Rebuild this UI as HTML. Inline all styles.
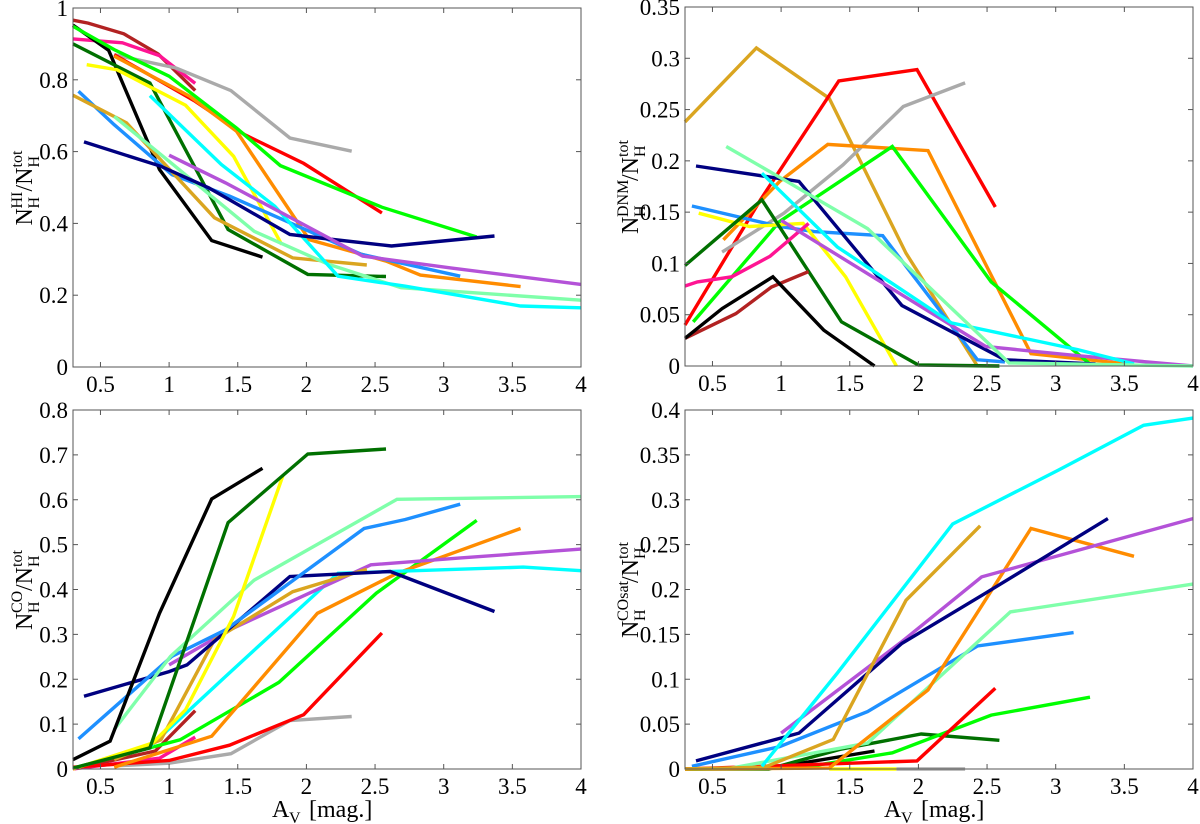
<!DOCTYPE html>
<html><head><meta charset="utf-8"><style>
html,body{margin:0;padding:0;background:#fff;}
svg{display:block;}
text{font-family:"Liberation Serif","DejaVu Serif","Times New Roman",serif;}
</style></head><body>
<svg id="fig" width="1200" height="824" viewBox="0 0 1200 824"></svg>
<script>
const colorVals={brown:'#b22222',pink:'#ff1493',black:'#000000',darkgreen:'#007000',lime:'#00ff00',red:'#ff0000',gray:'#aaaaaa',orange:'#ff8c00',yellow:'#ffff00',dodgerblue:'#1e90ff',goldenrod:'#daa520',aquamarine:'#7fffaa',cyan:'#00ffff',navy:'#000080',purple:'#b452d8'};
const xTicks=[0.5,1,1.5,2,2.5,3,3.5,4];
const xTickLabels=['0.5','1','1.5','2','2.5','3','3.5','4'];
// Panel HI
const hiSeries={
brown:[[0.3,0.966],[0.41,0.958],[0.67,0.928],[0.92,0.872],[1.19,0.77]],
pink:[[0.3,0.914],[0.66,0.903],[0.93,0.867],[1.19,0.79]],
black:[[0.3,0.952],[0.56,0.882],[0.93,0.55],[1.31,0.352],[1.68,0.306]],
darkgreen:[[0.3,0.9],[0.86,0.791],[1.43,0.383],[2.01,0.258],[2.58,0.252]],
gray:[[0.6,0.87],[1.05,0.833],[1.45,0.77],[1.88,0.638],[2.33,0.601]],
red:[[0.6,0.87],[1.19,0.74],[1.55,0.647],[1.98,0.567],[2.55,0.429]],
orange:[[0.6,0.866],[1.15,0.754],[1.49,0.657],[2.02,0.355],[2.58,0.295],[2.83,0.256],[3.56,0.224]],
yellow:[[0.4,0.842],[0.62,0.828],[1.12,0.729],[1.47,0.587],[1.82,0.341]],
lime:[[0.3,0.949],[0.6,0.884],[1.0,0.81],[1.49,0.666],[1.81,0.561],[2.55,0.445],[3.24,0.362]],
dodgerblue:[[0.34,0.768],[0.6,0.675],[1.02,0.536],[1.44,0.476],[2.4,0.314],[3.12,0.253]],
goldenrod:[[0.3,0.757],[0.69,0.68],[1.33,0.416],[1.9,0.304],[2.44,0.284]],
aquamarine:[[0.6,0.698],[1.0,0.573],[1.62,0.378],[2.16,0.286],[2.69,0.221],[4,0.186]],
cyan:[[0.86,0.756],[1.38,0.564],[1.77,0.448],[2.23,0.253],[2.72,0.225],[3.56,0.17],[4,0.165]],
navy:[[0.38,0.627],[0.94,0.559],[1.29,0.499],[1.88,0.369],[2.13,0.358],[2.62,0.337],[3.37,0.365]],
purple:[[1.0,0.59],[1.41,0.513],[2.41,0.309],[3.05,0.276],[4,0.23]]
};
const hiTicks=[0,0.2,0.4,0.6,0.8,1];
const hiTickLabels=['0','0.2','0.4','0.6','0.8','1'];
// Panel DNM
const dnmSeries={
goldenrod:[[0.3,0.238],[0.82,0.31],[1.35,0.261],[1.91,0.11],[2.43,0.0]],
red:[[0.3,0.04],[0.85,0.162],[1.42,0.278],[1.99,0.289],[2.56,0.155]],
gray:[[0.57,0.111],[1.02,0.149],[1.45,0.196],[1.89,0.253],[2.34,0.276]],
orange:[[0.58,0.123],[0.99,0.18],[1.34,0.216],[2.07,0.21],[2.82,0.012],[3.52,0.002]],
lime:[[0.36,0.043],[0.99,0.141],[1.81,0.214],[2.53,0.082],[3.24,0.003]],
dodgerblue:[[0.35,0.156],[0.99,0.136],[1.24,0.131],[1.74,0.127],[2.43,0.006],[2.63,0.004]],
yellow:[[0.4,0.149],[0.77,0.136],[1.16,0.139],[1.47,0.087],[1.84,0]],
darkgreen:[[0.3,0.098],[0.86,0.162],[1.44,0.043],[2.0,0.001],[2.59,0]],
pink:[[0.3,0.078],[0.39,0.082],[0.64,0.087],[0.92,0.107],[1.2,0.139]],
brown:[[0.3,0.027],[0.67,0.051],[0.93,0.077],[1.2,0.092]],
black:[[0.3,0.027],[0.57,0.056],[0.94,0.087],[1.31,0.035],[1.68,0]],
navy:[[0.38,0.195],[0.93,0.184],[1.13,0.18],[1.88,0.059],[2.63,0.006],[3.29,0.002]],
purple:[[1.0,0.142],[2.49,0.019],[3.16,0.01],[4,0]],
cyan:[[0.86,0.188],[1.41,0.116],[2.24,0.042],[3.16,0.016],[3.57,0.002]],
aquamarine:[[0.6,0.214],[0.99,0.184],[1.63,0.134],[2.66,0.003],[4,0]]
};
const dnmTicks=[0,0.05,0.1,0.15,0.2,0.25,0.3,0.35];
const dnmTickLabels=['0','0.05','0.1','0.15','0.2','0.25','0.3','0.35'];
// Panel CO
const coSeries={
brown:[[0.3,0.0],[0.9,0.04],[1.19,0.13]],
pink:[[0.3,0],[0.93,0.024],[1.19,0.071]],
gray:[[0.6,0.007],[1.0,0.013],[1.45,0.034],[1.88,0.108],[2.33,0.117]],
red:[[0.3,0.004],[1.0,0.019],[1.44,0.053],[1.98,0.121],[2.55,0.303]],
lime:[[0.3,0.002],[1.08,0.065],[1.8,0.193],[2.51,0.392],[3.24,0.554]],
orange:[[0.6,0.004],[1.31,0.073],[2.08,0.347],[2.66,0.436],[3.56,0.536]],
cyan:[[0.86,0.05],[1.41,0.206],[2.23,0.436],[3.58,0.45],[4,0.442]],
purple:[[1.0,0.232],[1.44,0.31],[2.47,0.455],[3.11,0.47],[4,0.49]],
goldenrod:[[0.6,0.021],[0.94,0.065],[1.33,0.288],[1.9,0.395],[2.44,0.445]],
navy:[[0.38,0.162],[1.0,0.217],[1.13,0.232],[1.88,0.429],[2.22,0.434],[2.61,0.44],[3.37,0.351]],
dodgerblue:[[0.34,0.067],[1.02,0.251],[1.41,0.31],[2.42,0.536],[2.72,0.556],[3.12,0.59]],
aquamarine:[[0.6,0.088],[1.01,0.251],[1.62,0.421],[2.66,0.601],[4,0.607]],
yellow:[[0.3,0],[0.88,0.058],[1.12,0.132],[1.47,0.34],[1.83,0.655]],
darkgreen:[[0.3,0.002],[0.86,0.047],[1.43,0.549],[2.01,0.702],[2.58,0.713]],
black:[[0.3,0.021],[0.57,0.062],[0.93,0.347],[1.31,0.602],[1.68,0.67]]
};
const coTicks=[0,0.1,0.2,0.3,0.4,0.5,0.6,0.7,0.8];
const coTickLabels=['0','0.1','0.2','0.3','0.4','0.5','0.6','0.7','0.8'];
// Panel COsat
const cosatSeries={
gray:[[1.84,0],[2.34,0]],
yellow:[[1.35,0],[1.84,0]],
black:[[0.3,0],[0.93,0.001],[1.68,0.02]],
darkgreen:[[0.3,0],[0.91,0],[1.43,0.022],[2.02,0.039],[2.59,0.032]],
lime:[[0.3,0],[1.13,0.001],[1.81,0.018],[2.53,0.06],[3.25,0.08]],
red:[[0.3,0],[1.99,0.009],[2.56,0.09]],
dodgerblue:[[0.35,0.003],[0.99,0.025],[1.63,0.064],[2.43,0.137],[3.13,0.152]],
aquamarine:[[0.6,0],[1.63,0.029],[2.67,0.175],[4,0.206]],
orange:[[0.3,0],[1.35,0.001],[2.07,0.088],[2.82,0.268],[3.57,0.237]],
purple:[[1.0,0.04],[1.88,0.142],[2.46,0.214],[4,0.279]],
navy:[[0.38,0.009],[1.13,0.04],[1.88,0.14],[2.49,0.196],[3.38,0.279]],
goldenrod:[[0.3,0],[0.88,0.002],[1.38,0.033],[1.91,0.188],[2.45,0.271]],
cyan:[[0.86,0.003],[1.41,0.107],[2.25,0.273],[3.02,0.333],[3.64,0.383],[4,0.391]]
};
const cosatTicks=[0,0.05,0.1,0.15,0.2,0.25,0.3,0.35,0.4];
const cosatTickLabels=['0','0.05','0.1','0.15','0.2','0.25','0.3','0.35','0.4'];

const NS='http://www.w3.org/2000/svg';
const svg=document.getElementById('fig');
function mk(tag,attrs,parent){const e=document.createElementNS(NS,tag);for(const k in attrs)e.setAttribute(k,attrs[k]);(parent||svg).appendChild(e);return e;}
function txt(parent,x,y,s,size,anchor){const t=mk('text',{x:x,y:y,'font-size':size,'text-anchor':anchor||'start',fill:'#000'},parent);t.textContent=s;return t;}

function panel(cfg){
  const g=mk('g',{});
  
  
  const L=cfg.x0,R=cfg.x1,T=cfg.y0,B=cfg.y1;
  const xs=v=>L+(v-0.3)/(4-0.3)*(R-L);
  const ys=v=>B-(v/cfg.ymax)*(B-T);
  for(const key in cfg.series){
    const pts=cfg.series[key].map(p=>xs(p[0]).toFixed(1)+','+ys(p[1]).toFixed(1)).join(' ');
    const pl=mk('polyline',{points:pts,fill:'none',stroke:colorVals[key],'stroke-width':3.4,'stroke-linejoin':'miter'},g);
    
    
  }
  const box=mk('rect',{x:L,y:T,width:R-L,height:B-T,fill:'none',stroke:'#555','stroke-width':1},g);
  
  
  xTicks.forEach((t,i)=>{
    const x=xs(t);
    mk('line',{x1:x,y1:B,x2:x,y2:B-5,stroke:'#555'},g);
    mk('line',{x1:x,y1:T,x2:x,y2:T+5,stroke:'#555'},g);
    const tx=txt(g,x,B+25,xTickLabels[i],23,'middle');
    
    
  });
  cfg.yTicks.forEach((t,i)=>{
    const y=ys(t);
    mk('line',{x1:L,y1:y,x2:L+5,y2:y,stroke:'#555'},g);
    mk('line',{x1:R,y1:y,x2:R-5,y2:y,stroke:'#555'},g);
    const tx=txt(g,L-5,y+8,cfg.yTickLabels[i],23,'end');
    
    
  });
  const cy=(T+B)/2;
  const supW=cfg.supW, total=17+Math.max(supW,12)+20+22;
  const tg=mk('g',{transform:'translate('+cfg.titleX+','+(cy+total/2)+') rotate(-90)'},g);
  
  
  let x=0;
  txt(tg,x,0,'N',24); x+=17;
  txt(tg,x,-10,cfg.sup,16); txt(tg,x,7,'H',16); x+=Math.max(supW,12);
  txt(tg,x,0,'/N',24); x+=24;
  txt(tg,x,-10,'tot',16); txt(tg,x,7,'H',16);
  if(cfg.xlabel){
    const xg=mk('g',{},g);
    
    
    const cx=(L+R)/2-55;
    txt(xg,cx,B+48,'A',24);
    txt(xg,cx+17,B+54,'V',16);
    txt(xg,cx+37,B+48,'[mag.]',24);
  }
}
panel({name:'hi-panel',x0:73,x1:581,y0:8,y1:367,ymax:1,series:hiSeries,yTicks:hiTicks,yTickLabels:hiTickLabels,titleX:32,sup:'HI',supW:17});
panel({name:'dnm-panel',x0:685,x1:1193,y0:7,y1:366,ymax:0.35,series:dnmSeries,yTicks:dnmTicks,yTickLabels:dnmTickLabels,titleX:638,sup:'DNM',supW:36});
panel({name:'co-panel',x0:73,x1:581,y0:410,y1:769,ymax:0.8,series:coSeries,yTicks:coTicks,yTickLabels:coTickLabels,titleX:32,sup:'CO',supW:22,xlabel:true});
panel({name:'cosat-panel',x0:685,x1:1193,y0:410,y1:769,ymax:0.4,series:cosatSeries,yTicks:cosatTicks,yTickLabels:cosatTickLabels,titleX:638,sup:'COsat',supW:38,xlabel:true});
</script>
</body></html>
